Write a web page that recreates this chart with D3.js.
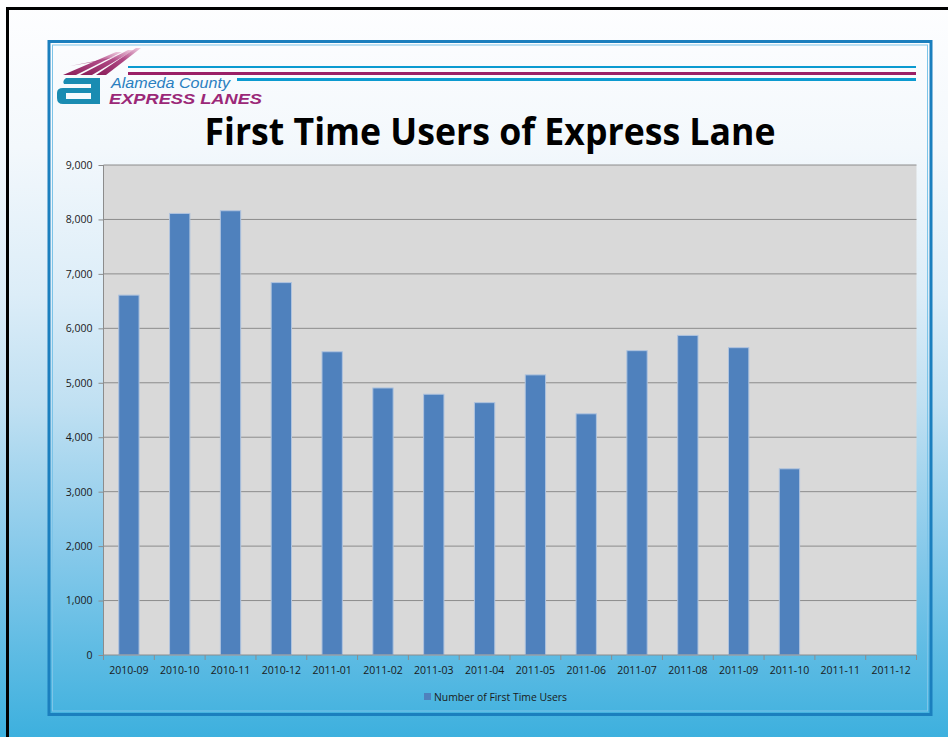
<!DOCTYPE html>
<html>
<head>
<meta charset="utf-8">
<script src="https://cdn.jsdelivr.net/npm/d3@7"></script>
<style>
  html, body { margin: 0; padding: 0; overflow: hidden; }
  svg { display: block; }
</style>
</head>
<body>
<svg id="chart" width="948" height="737"></svg>
<script>
const categories = ["2010-09","2010-10","2010-11","2010-12","2011-01","2011-02","2011-03","2011-04","2011-05","2011-06","2011-07","2011-08","2011-09","2011-10","2011-11","2011-12"];
const firstTimeUsers = [6610, 8110, 8160, 6840, 5570, 4905, 4790, 4635, 5145, 4430, 5590, 5870, 5645, 3420, null, null];
const yTicks = [0, 1000, 2000, 3000, 4000, 5000, 6000, 7000, 8000, 9000];
const titleText = "First Time Users of Express Lane";
const legendLabel = "Number of First Time Users";
const logoLine1 = "Alameda County";
const logoLine2 = "EXPRESS LANES";

(function () {
const W = 948, H = 737;
const svg = d3.select("#chart");
const defs = svg.append("defs");

// page gradient
const bg = defs.append("linearGradient").attr("id", "bg").attr("x1", 0).attr("y1", 0).attr("x2", 0).attr("y2", 1);
[[0, "#fefeff"], [0.2, "#f3f8fc"], [0.4, "#dcedf8"], [0.55, "#c0e0f2"], [0.75, "#86c9ea"], [1, "#3db0de"]]
  .forEach(([o, c]) => bg.append("stop").attr("offset", o).attr("stop-color", c));
svg.append("rect").attr("width", W).attr("height", H).attr("fill", "url(#bg)");

// outer black border
svg.append("rect").attr("x", 7.5).attr("y", 8.5).attr("width", 980).attr("height", 800)
  .attr("fill", "none").attr("stroke", "#000").attr("stroke-width", 3);

// blue frame
svg.append("rect").attr("x", 49).attr("y", 41.5).attr("width", 882).attr("height", 673)
  .attr("fill", "none").attr("stroke", "#1b7fbe").attr("stroke-width", 3);
svg.append("rect").attr("x", 52.5).attr("y", 45).attr("width", 875).attr("height", 666)
  .attr("fill", "none").attr("stroke", "#7cc4e8").attr("stroke-width", 1);

// header lines
svg.append("rect").attr("x", 128).attr("y", 66).attr("width", 788).attr("height", 2).attr("fill", "#0b9ad0");
svg.append("rect").attr("x", 128).attr("y", 72).attr("width", 788).attr("height", 3).attr("fill", "#9a1f66");
svg.append("rect").attr("x", 237).attr("y", 78).attr("width", 679).attr("height", 3).attr("fill", "#0b9ad0");

// logo swooshes
const sw = defs.append("linearGradient").attr("id", "sw").attr("x1", 0).attr("y1", 1).attr("x2", 1).attr("y2", 0);
sw.append("stop").attr("offset", 0).attr("stop-color", "#8a1d58");
sw.append("stop").attr("offset", 0.6).attr("stop-color", "#b04a86");
sw.append("stop").attr("offset", 1).attr("stop-color", "#f2d2e4");
const logo = svg.append("g");
[
  [[63,75],[76,75],[122,52],[116,52]],
  [[80,75],[92,75],[134,50],[128,50]],
  [[96,75],[106,75],[141,48],[136,48]]
].forEach(p => logo.append("path").attr("d", "M" + p.join("L") + "Z").attr("fill", "url(#sw)"));
logo.append("path").attr("d", "M70,66 L110,58 L140,48 L105,60 Z").attr("fill", "url(#sw)").attr("opacity", 0.7);

// logo "a"
const teal = "#1a8cb2";
logo.append("path")
  .attr("d", "M66,78 H100 V104 H63 Q57,104 57,98 V93 Q57,88 63,88 H91 V84 H64 Q62,81 66,78 Z M66,93 V99 H91 V93 Z")
  .attr("fill", teal).attr("fill-rule", "evenodd");

logo.append("text").attr("x", 111).attr("y", 88).text(logoLine1)
  .attr("font-family", "Liberation Sans, Arial, sans-serif").attr("font-style", "italic")
  .attr("font-size", 14).attr("fill", "#2a7fc0").attr("textLength", 119).attr("lengthAdjust", "spacingAndGlyphs");
logo.append("text").attr("x", 109).attr("y", 104).text(logoLine2)
  .attr("font-family", "Liberation Sans, Arial, sans-serif").attr("font-style", "italic").attr("font-weight", "bold")
  .attr("font-size", 14).attr("fill", "#9b2878").attr("textLength", 153).attr("lengthAdjust", "spacingAndGlyphs");

// title
svg.append("text").attr("x", 490).attr("y", 145).attr("text-anchor", "middle").text(titleText)
  .attr("font-family", "Open Sans, sans-serif").attr("font-weight", "bold").attr("font-size", 37)
  .attr("fill", "#000").attr("textLength", 571).attr("lengthAdjust", "spacingAndGlyphs");

// plot
const pLeft = 103.5, pRight = 916.5, pTop = 165, pBottom = 655;
const x = d3.scaleBand().domain(categories).range([pLeft, pRight]).paddingInner(0.6).paddingOuter(0.3);
const y = d3.scaleLinear().domain([0, 9000]).range([pBottom, pTop]);

svg.append("rect").attr("x", pLeft).attr("y", pTop).attr("width", pRight - pLeft).attr("height", pBottom - pTop).attr("fill", "#d9d9d9");

// gridlines
svg.append("g").selectAll("line").data(yTicks.filter(d => d > 0)).join("line")
  .attr("x1", pLeft).attr("x2", pRight).attr("y1", d => y(d)).attr("y2", d => y(d))
  .attr("stroke", "#8c8c8c").attr("stroke-width", 1);

// bars
svg.append("g").selectAll("rect").data(categories.map((c, i) => ({ c, v: firstTimeUsers[i] })).filter(d => d.v != null))
  .join("rect")
  .attr("x", d => x(d.c)).attr("width", x.bandwidth())
  .attr("y", d => y(d.v)).attr("height", d => y(0) - y(d.v))
  .attr("fill", "#4f81bd").attr("stroke", "#afc3de").attr("stroke-width", 1);

// y axis
const yAxis = d3.axisLeft(y).tickValues(yTicks).tickFormat(d3.format(",")).tickSize(5).tickPadding(6);
const gy = svg.append("g").attr("transform", `translate(${pLeft},0)`).call(yAxis);
gy.select(".domain").attr("stroke", "#8c8c8c").attr("d", `M0,${pTop}V${pBottom}`);
gy.selectAll(".tick line").attr("stroke", "#8c8c8c");
gy.selectAll(".tick text").attr("font-family", "Open Sans, sans-serif").attr("font-size", 10.5).attr("fill", "#1a1a1a");

// x axis
const xAxis = d3.axisBottom(x).tickSize(0).tickPadding(12);
const gx = svg.append("g").attr("transform", `translate(0,${pBottom})`).call(xAxis);
gx.select(".domain").attr("stroke", "#8c8c8c").attr("d", `M${pLeft},0H${pRight}`);
gx.selectAll(".tick text").attr("font-family", "Open Sans, sans-serif").attr("font-size", 10.5).attr("fill", "#1a1a1a");
// category boundary tick marks
const boundaryX = categories.map((c, i) => pLeft + i * x.step()).concat([pRight]);
gx.selectAll(".bt").data(boundaryX).join("line").attr("class", "bt")
  .attr("x1", d => d).attr("x2", d => d).attr("y1", 0).attr("y2", 5).attr("stroke", "#8c8c8c");

// legend
const lg = svg.append("g").attr("transform", "translate(424,693)");
lg.append("rect").attr("width", 7).attr("height", 7).attr("fill", "#4f81bd");
lg.append("text").attr("x", 10).attr("y", 7.5).text(legendLabel)
  .attr("font-family", "Open Sans, sans-serif").attr("font-size", 10.5).attr("fill", "#1a1a1a")
  .attr("textLength", 133).attr("lengthAdjust", "spacingAndGlyphs");
})();
</script>
</body>
</html>
